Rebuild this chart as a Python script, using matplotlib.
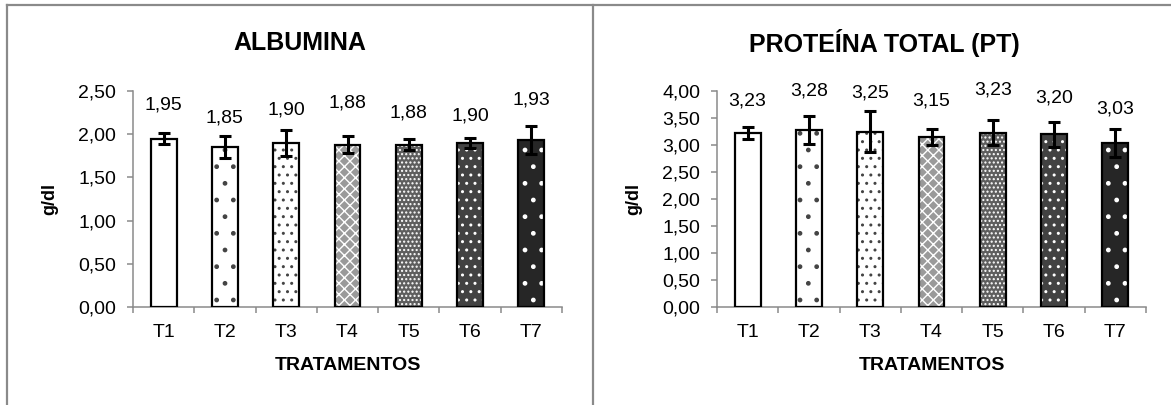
import matplotlib
matplotlib.use("Agg")
import matplotlib.pyplot as plt
from matplotlib.lines import Line2D

plt.rcParams['font.family'] = ['Liberation Sans', 'DejaVu Sans']
plt.rcParams['hatch.linewidth'] = 1.0

# data
tratamentos = ["T1", "T2", "T3", "T4", "T5", "T6", "T7"]
albumina = [1.95, 1.85, 1.90, 1.88, 1.88, 1.90, 1.93]
albumina_err = [0.06, 0.13, 0.15, 0.10, 0.06, 0.06, 0.16]
proteina = [3.23, 3.28, 3.25, 3.15, 3.23, 3.20, 3.03]
proteina_err = [0.11, 0.26, 0.38, 0.155, 0.23, 0.23, 0.26]

alb_ticks = [0.0, 0.5, 1.0, 1.5, 2.0, 2.5]
pt_ticks = [0.0, 0.5, 1.0, 1.5, 2.0, 2.5, 3.0, 3.5, 4.0]

# bar look for each treatment: face colour, hatch, hatch colour
faces = ["white", "white", "white", "#9a9a9a", "#5e5e5e", "#424242", "#262626"]
hatches = [None, ".", "..", "xxx", "....", "..", "."]
hatch_cols = ["white", "#444444", "#444444", "white", "white", "white", "white"]

# manual offsets (points) of the value labels above each bar
alb_offsets = [24, 21, 24, 30, 23, 19, 29]
pt_offsets = [23, 28, 28, 26, 31, 26, 25]

GRAY = "#8a8a8a"


def fmt(v):
    return f"{v:.2f}".replace(".", ",")


def panel(ax, values, errs, ticks, offsets, ymax):
    x = list(range(len(values)))
    for i, v in enumerate(values):
        ax.bar(i, v, width=0.42, color=faces[i], hatch=hatches[i],
               edgecolor=hatch_cols[i], linewidth=0, zorder=2)
    ax.bar(x, values, width=0.42, fill=False, edgecolor="black",
           linewidth=1.6, zorder=3)
    ax.errorbar(x, values, yerr=errs, fmt="none", ecolor="black",
                elinewidth=2.2, capsize=4.5, capthick=2.2, zorder=4)
    for i, v in enumerate(values):
        ax.annotate(fmt(v), (i, v), xytext=(0, offsets[i]),
                    textcoords="offset points", ha="center", va="center",
                    fontsize=14)

    ax.set_xlim(-0.5, len(values) - 0.5)
    ax.set_ylim(0, ymax)
    ax.set_yticks(ticks)
    ax.set_yticklabels([fmt(t) for t in ticks])
    ax.set_xticks([i - 0.5 for i in range(len(values) + 1)])
    ax.set_xticklabels([])
    ax.set_xticks(x, minor=True)
    ax.set_xticklabels(tratamentos, minor=True)
    ax.tick_params(axis="x", which="major", length=4, width=1.1, color=GRAY)
    ax.tick_params(axis="x", which="minor", length=0, pad=12, labelsize=14)
    ax.tick_params(axis="y", length=4, width=1.1, color=GRAY, pad=8,
                   labelsize=14)
    for s in ["top", "right"]:
        ax.spines[s].set_visible(False)
    for s in ["left", "bottom"]:
        ax.spines[s].set_color(GRAY)
        ax.spines[s].set_linewidth(1.1)

    ax.set_ylabel("g/dl", fontsize=13, fontweight="bold")
    ax.yaxis.set_label_coords(-0.175, 0.5)
    ax.set_xlabel("TRATAMENTOS", fontsize=14, fontweight="bold")
    ax.xaxis.label.set_va("center")
    ax.xaxis.set_label_coords(0.5, -0.27)


W, H = 1171, 405
fig = plt.figure(figsize=(W / 100, H / 100), dpi=100)

ax1 = fig.add_axes([133 / W, 98 / H, 429 / W, 216 / H])
ax2 = fig.add_axes([717 / W, 98 / H, 429 / W, 216 / H])

panel(ax1, albumina, albumina_err, alb_ticks, alb_offsets, 2.5)
panel(ax2, proteina, proteina_err, pt_ticks, pt_offsets, 4.0)

fig.text(300 / W, 1 - 43 / H, "ALBUMINA", ha="center", va="center",
         fontsize=18, fontweight="bold")
fig.text(884 / W, 1 - 43 / H, "PROTEÍNA TOTAL (PT)", ha="center",
         va="center", fontsize=18, fontweight="bold")

# chart frames
for xs, ys in [([7 / W, 1], [1 - 5 / H, 1 - 5 / H]),
               ([7 / W, 7 / W], [1 - 5 / H, 0]),
               ([593 / W, 593 / W], [1 - 5 / H, 0])]:
    fig.add_artist(Line2D(xs, ys, transform=fig.transFigure, color=GRAY,
                          linewidth=1.6))

fig.savefig("out.png", dpi=100)
